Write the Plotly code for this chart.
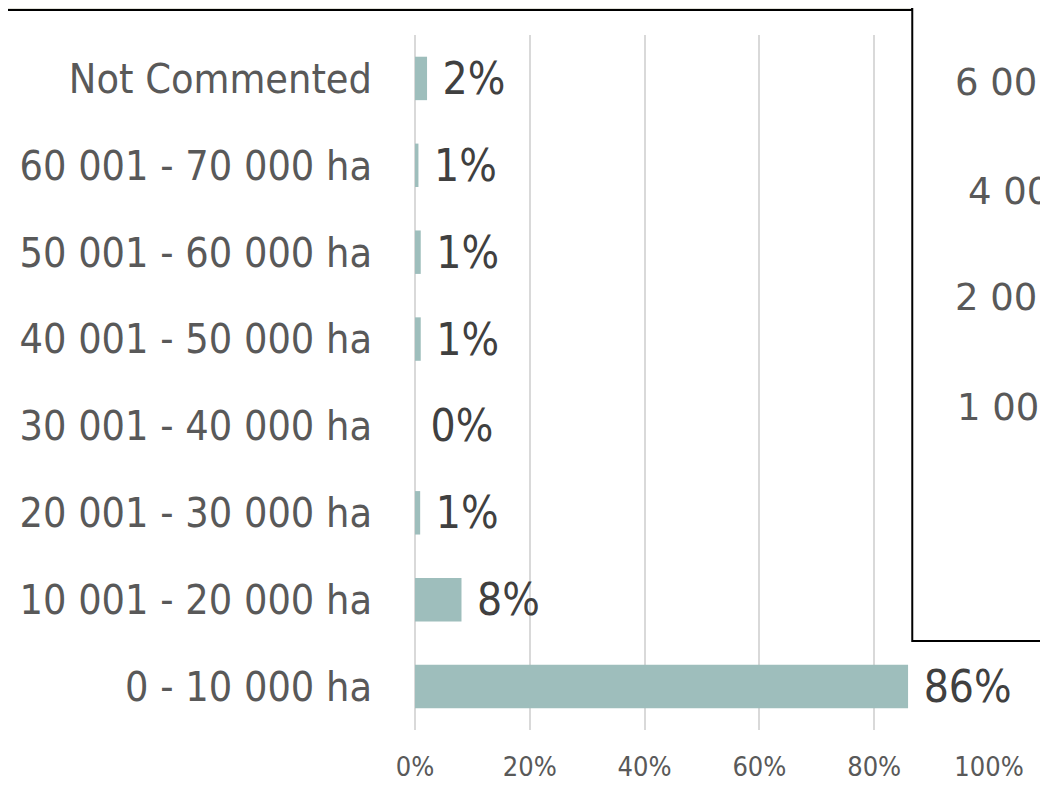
import plotly.graph_objects as go

# farm size classes, top to bottom as shown
categories = [
    "Not Commented",
    "60 001 - 70 000 ha",
    "50 001 - 60 000 ha",
    "40 001 - 50 000 ha",
    "30 001 - 40 000 ha",
    "20 001 - 30 000 ha",
    "10 001 - 20 000 ha",
    "0 - 10 000 ha",
]
shares = [2.1, 0.6, 1.0, 1.0, 0.0, 0.9, 8.1, 85.9]   # % of respondents
x_ticks = [0, 20, 40, 60, 80, 100]

# labels of the neighbouring chart, cut by the page edge
inset_labels = ["6 001", "4 00", "2 001", "1 001", "0"]

BAR = "#9EBEBC"
GREY = "#595959"
COND = "DejaVu Sans Condensed, DejaVu Sans, sans-serif"

OFF = 8   # page body margin
W, H = 1040, 788
L, R, T, B = 413 - OFF, 59, 35 - OFF, 66
pw, ph = W - L - R, H - T - B


def px_x(x):   # page pixel -> paper x
    return (x - OFF - L) / pw


def px_y(y):   # page pixel -> paper y
    return (H - B - (y - OFF)) / ph


fig = go.Figure()
fig.add_trace(go.Bar(
    x=shares, y=categories, orientation="h",
    marker=dict(color=BAR, line=dict(width=0)),
    texttemplate="\u00a0%{x:.0f}%", textposition="outside",
    textfont=dict(family=COND, size=44, color="#404040"),
    constraintext="none", cliponaxis=False,
    hoverinfo="skip",
))

fig.update_layout(
    width=W, height=H,
    margin=dict(l=L, r=R, t=T, b=B),
    paper_bgcolor="white", plot_bgcolor="white",
    bargap=0.5, showlegend=False,
    font=dict(family=COND, color=GREY),
    xaxis=dict(
        range=[0, 100], tickvals=x_ticks,
        ticktext=[f"{v}%" for v in x_ticks],
        showgrid=True, gridcolor="#D9D9D9", gridwidth=2,
        zeroline=True, zerolinecolor="#D9D9D9", zerolinewidth=2,
        showline=False, ticks="", ticklabelstandoff=18,
        tickfont=dict(family=COND, size=27, color=GREY),
    ),
    yaxis=dict(
        autorange="reversed", showgrid=False, zeroline=False,
        showline=False, ticks="", ticklabelstandoff=42,
        tickfont=dict(family=COND, size=41, color=GREY),
    ),
)

# bottom edge of a header box across the top
fig.add_shape(type="rect", xref="paper", yref="paper",
              x0=px_x(-40), x1=px_x(912), y0=px_y(10), y1=px_y(-40),
              fillcolor="#E1E1DA", line=dict(color="black", width=2),
              layer="above")
# neighbouring chart box overlapping on the right
fig.add_shape(type="rect", xref="paper", yref="paper",
              x0=px_x(912), x1=px_x(1120), y0=px_y(641), y1=px_y(-40),
              fillcolor="white", line=dict(color="black", width=2),
              layer="above")

inset_x = [953, 966, 953, 955, 1037]
inset_y = [83, 192, 297, 407, 513]
for lab, xx, yy in zip(inset_labels, inset_x, inset_y):
    fig.add_annotation(text=lab, xref="paper", yref="paper",
                       x=px_x(xx), y=px_y(yy), xanchor="left", yanchor="middle",
                       showarrow=False,
                       font=dict(family="DejaVu Sans", size=37, color=GREY))

fig.write_html("out.html")
